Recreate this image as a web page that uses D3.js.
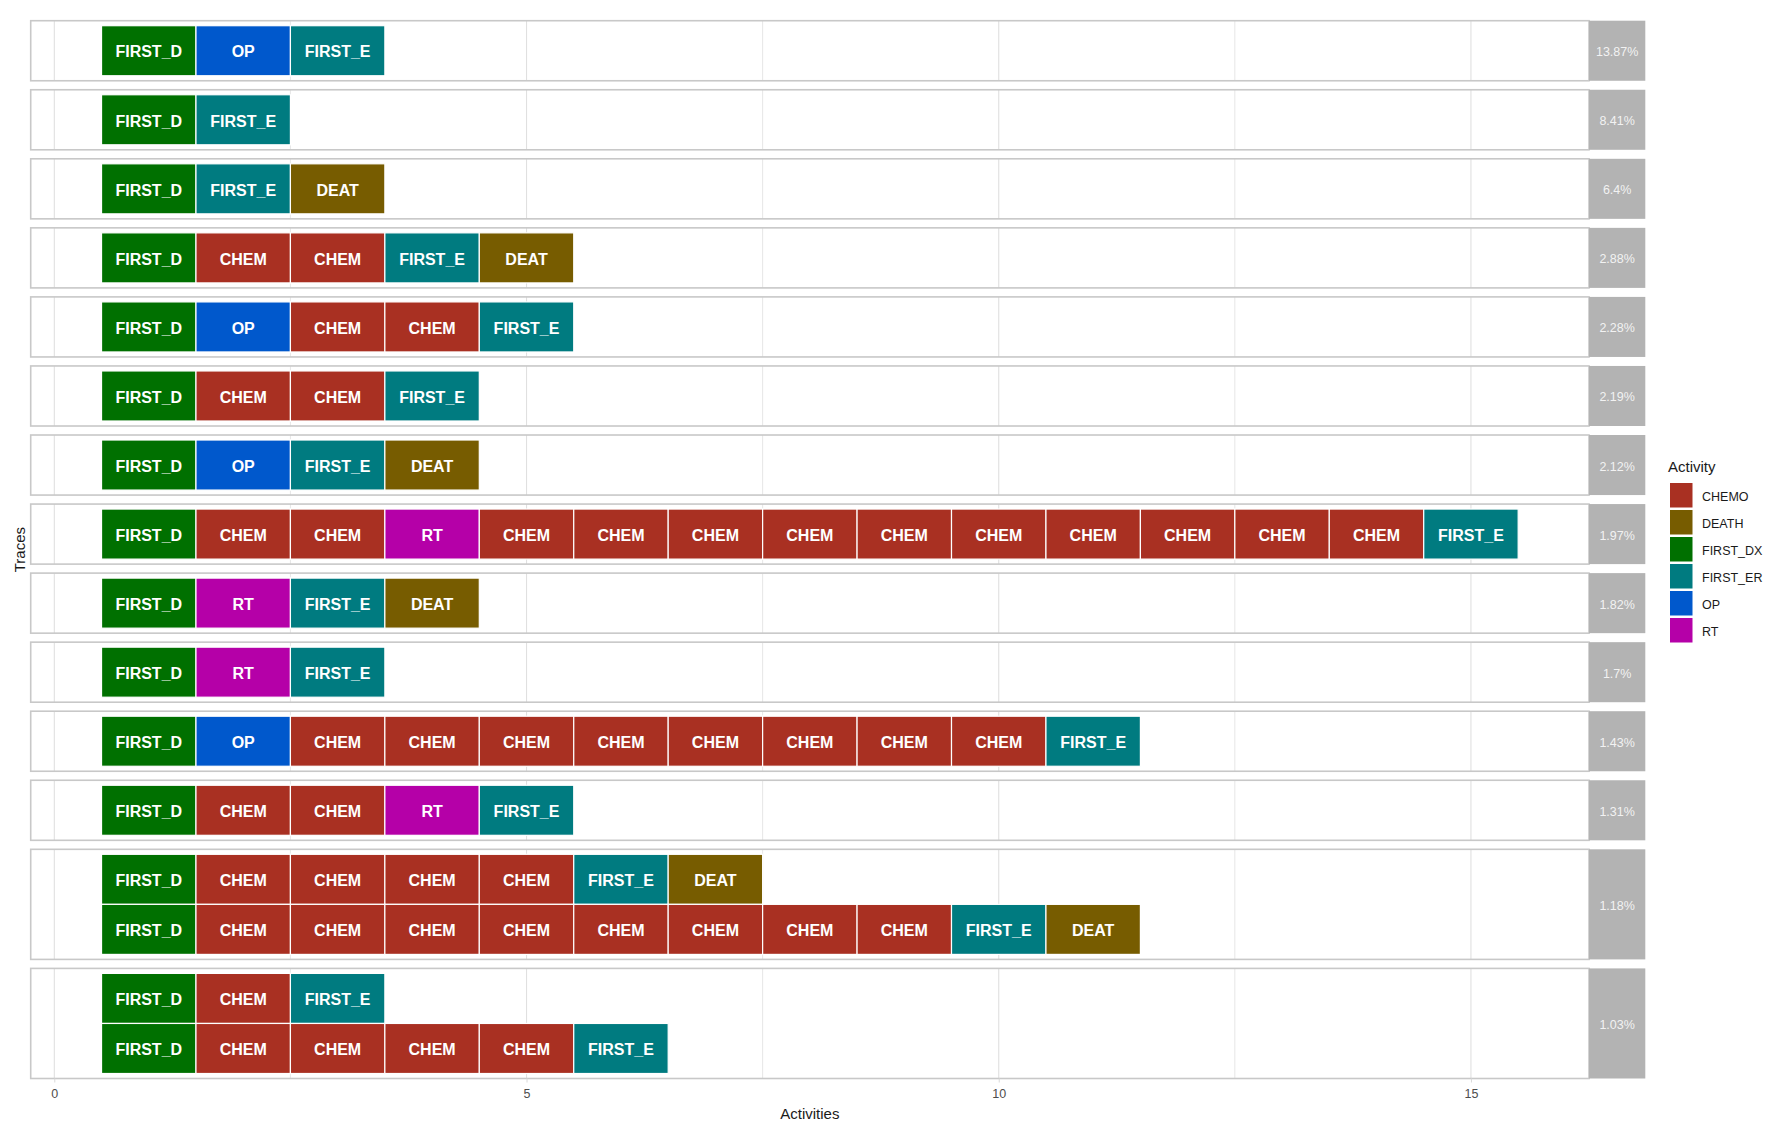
<!DOCTYPE html>
<html>
<head>
<meta charset="utf-8">
<script src="https://cdn.jsdelivr.net/npm/d3@7"></script>
<style>
  html, body { margin: 0; padding: 0; background: #ffffff; }
  svg { display: block; font-family: "Liberation Sans", Arial, sans-serif; }
</style>
</head>
<body>
<svg id="chart" width="1772" height="1144"></svg>
<script>
// ---------------- data ----------------
const activities  = ["CHEMO", "DEATH", "FIRST_DX", "FIRST_ER", "OP", "RT"];
const tileLabels  = ["CHEM", "DEAT", "FIRST_D", "FIRST_E", "OP", "RT"];
const activityColors = ["#a93022", "#775c00", "#007000", "#007b80", "#0058cc", "#b500a8"];

// each trace: sequence of activities
const traces = [
  ["FIRST_DX","OP","FIRST_ER"],
  ["FIRST_DX","FIRST_ER"],
  ["FIRST_DX","FIRST_ER","DEATH"],
  ["FIRST_DX","CHEMO","CHEMO","FIRST_ER","DEATH"],
  ["FIRST_DX","OP","CHEMO","CHEMO","FIRST_ER"],
  ["FIRST_DX","CHEMO","CHEMO","FIRST_ER"],
  ["FIRST_DX","OP","FIRST_ER","DEATH"],
  ["FIRST_DX","CHEMO","CHEMO","RT","CHEMO","CHEMO","CHEMO","CHEMO","CHEMO","CHEMO","CHEMO","CHEMO","CHEMO","CHEMO","FIRST_ER"],
  ["FIRST_DX","RT","FIRST_ER","DEATH"],
  ["FIRST_DX","RT","FIRST_ER"],
  ["FIRST_DX","OP","CHEMO","CHEMO","CHEMO","CHEMO","CHEMO","CHEMO","CHEMO","CHEMO","FIRST_ER"],
  ["FIRST_DX","CHEMO","CHEMO","RT","FIRST_ER"],
  ["FIRST_DX","CHEMO","CHEMO","CHEMO","CHEMO","FIRST_ER","DEATH"],
  ["FIRST_DX","CHEMO","CHEMO","CHEMO","CHEMO","CHEMO","CHEMO","CHEMO","CHEMO","FIRST_ER","DEATH"],
  ["FIRST_DX","CHEMO","FIRST_ER"],
  ["FIRST_DX","CHEMO","CHEMO","CHEMO","CHEMO","FIRST_ER"]
];
// facet (relative frequency group) of each trace
const traceFacet = [0,1,2,3,4,5,6,7,8,9,10,11,12,12,13,13];
// facet strip labels
const facetLabels = ["13.87%","8.41%","6.4%","2.88%","2.28%","2.19%","2.12%","1.97%","1.82%","1.7%","1.43%","1.31%","1.18%","1.03%"];
const xTicks = [0, 5, 10, 15];
const xMinorTicks = [2.5, 7.5, 12.5];

// ---------------- layout ----------------
const svg = d3.select("#chart");
const panelLeft = 30.7, panelRight = 1589, stripRight = 1645.3;
const plotTop = 20.7, plotBottom = 1078.5, gap = 9;

const maxLen = d3.max(traces, t => t.length);
// ggplot-like expansion: data range [0.5, maxLen+0.5], 5% each side
const x = d3.scaleLinear()
  .domain([0.5 - 0.05 * maxLen, maxLen + 0.5 + 0.05 * maxLen])
  .range([panelLeft, panelRight]);

const color = d3.scaleOrdinal().domain(activities).range(activityColors);
const labelOf = d3.scaleOrdinal().domain(activities).range(tileLabels);

// facets
const facets = facetLabels.map((lab, i) => ({
  label: lab,
  traces: traces.map((t, j) => ({t, j})).filter(d => traceFacet[d.j] === i)
}));
const units = facets.map(f => f.traces.length + 0.2);
const totalUnits = d3.sum(units);
const u = (plotBottom - plotTop - gap * (facets.length - 1)) / totalUnits;
let cursor = plotTop;
facets.forEach((f, i) => {
  f.y0 = cursor;
  f.h = units[i] * u;
  cursor += f.h + gap;
  f.y = d3.scaleBand()
    .domain(d3.range(f.traces.length))
    .range([f.y0, f.y0 + f.h])
    .paddingInner(0)
    .paddingOuter(0.1);
});

// ---------------- panels ----------------
const gPanels = svg.append("g");
facets.forEach(f => {
  const g = gPanels.append("g");
  g.append("rect")
    .attr("x", panelLeft).attr("y", f.y0)
    .attr("width", panelRight - panelLeft).attr("height", f.h)
    .attr("fill", "#ffffff");
  g.selectAll("line.minor").data(xMinorTicks).join("line")
    .attr("x1", d => x(d)).attr("x2", d => x(d))
    .attr("y1", f.y0).attr("y2", f.y0 + f.h)
    .attr("stroke", "#e6e6e6").attr("stroke-width", 1);
  g.selectAll("line.major").data(xTicks).join("line")
    .attr("x1", d => x(d)).attr("x2", d => x(d))
    .attr("y1", f.y0).attr("y2", f.y0 + f.h)
    .attr("stroke", "#e0e0e0").attr("stroke-width", 1.1);

  f.traces.forEach((tr, k) => {
    const cells = tr.t.map((a, p) => ({a, pos: p + 1}));
    const row = g.append("g");
    row.selectAll("rect").data(cells).join("rect")
      .attr("x", d => x(d.pos - 0.5))
      .attr("y", f.y(k))
      .attr("width", d => x(d.pos + 0.5) - x(d.pos - 0.5))
      .attr("height", f.y.bandwidth())
      .attr("fill", d => color(d.a))
      .attr("stroke", "#ffffff")
      .attr("stroke-width", 1.2);
    row.selectAll("text").data(cells).join("text")
      .attr("x", d => x(d.pos))
      .attr("y", f.y(k) + f.y.bandwidth() / 2 + 1)
      .attr("dy", "0.36em")
      .attr("text-anchor", "middle")
      .attr("font-size", 16)
      .attr("font-weight", "bold")
      .attr("fill", "#ffffff")
      .text(d => labelOf(d.a));
  });

  g.append("rect")
    .attr("x", panelLeft).attr("y", f.y0)
    .attr("width", panelRight - panelLeft).attr("height", f.h)
    .attr("fill", "none")
    .attr("stroke", "#c8c8c8").attr("stroke-width", 1.6);

  g.append("rect")
    .attr("x", panelRight).attr("y", f.y0)
    .attr("width", stripRight - panelRight).attr("height", f.h)
    .attr("fill", "#b3b3b3");
  g.append("text")
    .attr("x", (panelRight + stripRight) / 2)
    .attr("y", f.y0 + f.h / 2 + 1)
    .attr("dy", "0.36em")
    .attr("text-anchor", "middle")
    .attr("font-size", 12.5)
    .attr("fill", "#f2f2f2")
    .text(f.label);
});

// ---------------- x axis ----------------
const axis = d3.axisBottom(x).tickValues(xTicks).tickSize(4).tickPadding(7).tickFormat(d3.format("d"));
const gAxis = svg.append("g")
  .attr("transform", `translate(0,${plotBottom})`)
  .call(axis);
gAxis.select(".domain").remove();
gAxis.selectAll(".tick line").attr("stroke", "#d9d9d9");
gAxis.selectAll(".tick text")
  .attr("fill", "#4d4d4d")
  .attr("font-size", 12.5)
  .attr("font-family", "'Liberation Sans', Arial, sans-serif");

svg.append("text")
  .attr("x", (panelLeft + panelRight) / 2)
  .attr("y", 1119)
  .attr("text-anchor", "middle")
  .attr("font-size", 15)
  .attr("fill", "#1a1a1a")
  .text("Activities");

svg.append("text")
  .attr("transform", `translate(25,${(plotTop + plotBottom) / 2}) rotate(-90)`)
  .attr("text-anchor", "middle")
  .attr("font-size", 15)
  .attr("fill", "#1a1a1a")
  .text("Traces");

// ---------------- legend ----------------
const legend = svg.append("g").attr("transform", "translate(1668,0)");
legend.append("text")
  .attr("x", 0).attr("y", 472)
  .attr("font-size", 15)
  .attr("fill", "#1a1a1a")
  .text("Activity");
const items = legend.selectAll("g.item").data(activities).join("g")
  .attr("transform", (d, i) => `translate(2,${483 + i * 27})`);
items.append("rect")
  .attr("width", 22.5).attr("height", 24.5)
  .attr("fill", d => color(d));
items.append("text")
  .attr("x", 32).attr("y", 13)
  .attr("dy", "0.36em")
  .attr("font-size", 12.5)
  .attr("fill", "#1a1a1a")
  .text(d => d);
</script>
</body>
</html>
